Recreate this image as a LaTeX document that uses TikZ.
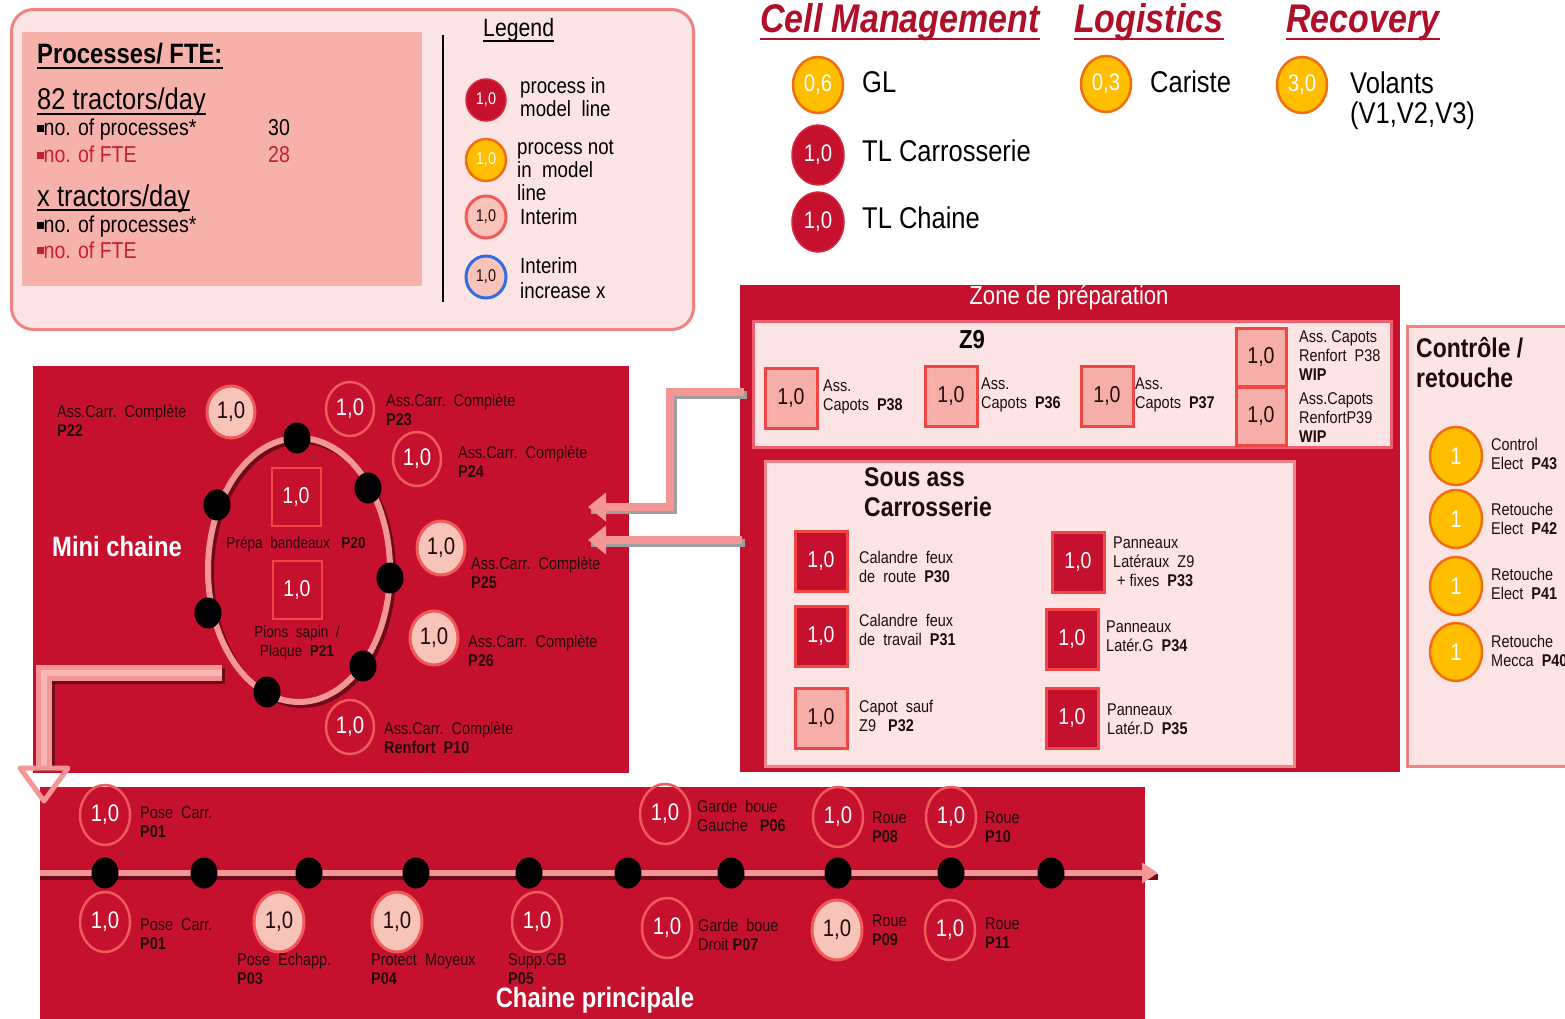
\documentclass[tikz,border=0pt]{standalone}
\usepackage{fontspec}
\setmainfont{Liberation Sans}[FakeStretch=0.85]
\usetikzlibrary{shapes.geometric,arrows.meta,calc}
\definecolor{dred}{RGB}{197,16,46}
\definecolor{mred}{RGB}{214,40,62}
\definecolor{titlered}{RGB}{175,15,40}
\definecolor{lpink}{RGB}{253,228,228}
\definecolor{bpink}{RGB}{240,130,130}
\definecolor{pbox}{RGB}{246,178,170}
\definecolor{lineP}{RGB}{245,150,150}
\definecolor{lineQ}{RGB}{248,182,182}
\definecolor{orf}{RGB}{255,190,0}
\definecolor{ord}{RGB}{240,110,20}
\definecolor{intf}{RGB}{248,196,186}
\definecolor{intd}{RGB}{240,90,90}
\definecolor{boxd}{RGB}{240,70,70}
\definecolor{boxf}{RGB}{245,175,168}
\definecolor{fte}{RGB}{200,30,50}
\definecolor{shad}{RGB}{110,10,25}
\definecolor{txtd}{RGB}{35,10,10}
\definecolor{z9d}{RGB}{240,96,112}
\definecolor{bluec}{RGB}{50,110,225}
\newcommand{\myfs}[1]{\fontsize{#1}{#1}\selectfont}
\newcommand{\myfsl}[2]{\fontsize{#1}{#2}\selectfont}
\newcommand{\blt}{\rule[0.18em]{0.28em}{0.28em}}
\begin{document}
\begin{tikzpicture}[x=1pt,y=-1pt,
 lbl/.style={inner sep=0pt, align=left, text=txtd, font=\myfsl{17}{19}, anchor=west},
 cb/.style={ellipse, inner sep=0pt, minimum width=50pt, minimum height=58pt, font=\myfs{24}},
 modelc/.style={cb, fill=dred, draw=mred, line width=1.5pt, text=white},
 outc/.style={cb, draw=intd, line width=2.5pt, text=white},
 intc/.style={cb, fill=intf, draw=intd, line width=3pt, text=txtd},
 orc/.style={cb, fill=orf, draw=ord, line width=2.5pt, text=white},
 lc/.style={minimum width=40pt, minimum height=42pt, font=\myfs{17}},
 sq/.style={rectangle, inner sep=0pt, minimum width=52pt, minimum height=60pt, line width=3pt, draw=boxd, font=\myfs{23}},
 zbox/.style={sq, fill=boxf, text=txtd},
 rbox/.style={sq, fill=dred, text=white},
 mbox/.style={sq, line width=2pt, minimum width=49pt, minimum height=58pt, text=white},
 dot/.style={ellipse, fill=black, inner sep=0pt, minimum width=27pt, minimum height=31pt},
 cont/.style={rectangle, inner sep=0pt, anchor=north west},
 hd/.style={inner sep=0pt, anchor=base west, text=titlered, font=\myfs{40}\bfseries\itshape},
 ul/.style={line width=2.5pt, titlered},
 txt/.style={inner sep=0pt, anchor=base west},
 wt/.style={inner sep=0pt, text=white, font=\myfs{28}\bfseries},
]
\useasboundingbox (0,0) rectangle (1565,1019);
\clip (0,0) rectangle (1565,1019);
\fill[white] (0,0) rectangle (1565,1019);

% ---------- containers
\node[cont, draw=bpink, line width=3pt, fill=lpink, rounded corners=22pt, minimum width=682pt, minimum height=320pt] (legbox) at (10,8) {};
\node[cont, fill=pbox, minimum width=400pt, minimum height=254pt] (procbox) at (22,32) {};
\node[cont, fill=dred, minimum width=596pt, minimum height=407pt] (mini) at (33,366) {};
\node[cont, fill=dred, minimum width=660pt, minimum height=487pt] (zone) at (740,285) {};
\node[cont, fill=lpink, draw=z9d, line width=3pt, minimum width=638pt, minimum height=126pt] (z9) at (752,320) {};
\node[cont, fill=lpink, draw=bpink, line width=3pt, minimum width=529pt, minimum height=305pt] (sous) at (764,460) {};
\node[cont, fill=lpink, draw=bpink, line width=3pt, minimum width=175pt, minimum height=440pt] (ctrl) at (1406,325) {};
\node[cont, fill=dred, minimum width=1105pt, minimum height=240pt] (chain) at (40,787) {};

% ---------- legend area
\node[txt, font=\myfs{28}\bfseries] (ptitle) at (37,64) {Processes/ FTE:};
\draw[line width=1.8pt] ([yshift=-4pt]ptitle.base west) -- ([yshift=-4pt]ptitle.base east);
\node[txt, font=\myfs{30}] (t82) at (37,110) {82 tractors/day};
\draw[line width=1.5pt] ([yshift=-4pt]t82.base west) -- ([yshift=-4pt]t82.base east);
\node[txt, font=\myfs{23}] (np1) at (37,136) {\blt no. of processes*};
\node[txt, font=\myfs{23}] (n30) at (268,136) {30};
\node[txt, font=\myfs{23}, text=fte] (nf1) at (37,163) {\blt no. of FTE};
\node[txt, font=\myfs{23}, text=fte] (n28) at (268,163) {28};
\node[txt, font=\myfs{30}] (tx) at (37,206) {x tractors/day};
\draw[line width=1.5pt] ([yshift=-4pt]tx.base west) -- ([yshift=-4pt]tx.base east);
\node[txt, font=\myfs{23}] (np2) at (37,233) {\blt no. of processes*};
\node[txt, font=\myfs{23}, text=fte] (nf2) at (37,258) {\blt no. of FTE};

\draw[line width=2pt] (443,35) -- (443,302);
\node[txt, font=\myfs{25}] (leg) at (483,37) {Legend};
\draw[line width=1.2pt] ([yshift=-4pt]leg.base west) -- ([yshift=-4pt]leg.base east);

\node[modelc, lc] (lg1) at (486,100) {1,0};
\node[orc, lc] (lg2) at (486,160) {1,0};
\node[intc, lc] (lg3) at (486,217) {1,0};
\node[intc, lc, draw=bluec] (lg4) at (486,277) {1,0};
\node[lbl, text=black, font=\myfsl{22}{23}] (lt1) at (520,97) {process in\\model\ \ line};
\node[lbl, text=black, font=\myfsl{22}{23}] (lt2) at (517,170) {process not\\in\ \ model\\line};
\node[lbl, text=black, font=\myfsl{22}{24}] (lt3) at (520,217) {Interim};
\node[lbl, text=black, font=\myfsl{22}{25}] (lt4) at (520,278) {Interim\\increase x};

% ---------- top right
\node[hd] (h1) at (760,33) {Cell Management};
\draw[ul] ([yshift=-6pt]h1.base west) -- ([yshift=-6pt]h1.base east);
\node[hd] (h2) at (1074,33) {Logistics};
\draw[ul] ([yshift=-6pt]h2.base west) -- ([yshift=-6pt]h2.base east);
\node[hd] (h3) at (1286,33) {Recovery};
\draw[ul] ([yshift=-6pt]h3.base west) -- ([yshift=-6pt]h3.base east);

\node[orc, minimum height=56pt] (gl) at (818,85) {0,6};
\node[modelc, minimum width=52pt, minimum height=60pt] (tlc) at (818,155) {1,0};
\node[modelc, minimum width=52pt, minimum height=60pt] (tlch) at (818,222) {1,0};
\node[orc, minimum height=56pt] (car) at (1106,84) {0,3};
\node[orc, minimum height=56pt] (vol) at (1302,85) {3,0};
\node[lbl, text=black, font=\myfsl{30}{30}] (tgl) at (862,82) {GL};
\node[lbl, text=black, font=\myfsl{30}{30}] (ttlc) at (862,151) {TL Carrosserie};
\node[lbl, text=black, font=\myfsl{30}{30}] (ttlch) at (862,218) {TL Chaine};
\node[lbl, text=black, font=\myfsl{30}{30}] (tcar) at (1150,82) {Cariste};
\node[lbl, text=black, font=\myfsl{30}{30}] (tvol) at (1350,101) {Volants\\(V1,V2,V3)};

% ---------- zone de preparation
\node[inner sep=0pt, text=white, font=\myfs{26}] (ztitle) at (1069,298) {Zone de préparation};
\node[inner sep=0pt, font=\myfs{26}\bfseries] (z9t) at (972,340) {Z9};
\node[zbox] (zb1) at (791,398) {1,0};
\node[zbox] (zb2) at (951,396) {1,0};
\node[zbox] (zb3) at (1107,396) {1,0};
\node[zbox, minimum width=50pt, minimum height=58pt] (zb4) at (1261,357) {1,0};
\node[zbox, minimum width=50pt, minimum height=58pt] (zb5) at (1261,416) {1,0};
\node[lbl] (zl1) at (823,397) {Ass.\\Capots\ \ \textbf{P38}};
\node[lbl] (zl2) at (981,395) {Ass.\\Capots\ \ \textbf{P36}};
\node[lbl] (zl3) at (1135,395) {Ass.\\Capots\ \ \textbf{P37}};
\node[lbl] (zl4) at (1299,356) {Ass.\ Capots\\Renfort\ \ P38\\\textbf{WIP}};
\node[lbl] (zl5) at (1299,418) {Ass.Capots\\RenfortP39\\\textbf{WIP}};

\node[inner sep=0pt, anchor=north west, align=left, font=\myfsl{27}{30}\bfseries, text=txtd] (stitle) at (864,467) {Sous ass\\Carrosserie};
\node[rbox] (sb1) at (821,561) {1,0};
\node[rbox] (sb2) at (821,636) {1,0};
\node[zbox] (sb3) at (821,718) {1,0};
\node[rbox] (sb4) at (1078,562) {1,0};
\node[rbox] (sb5) at (1072,639) {1,0};
\node[rbox] (sb6) at (1072,718) {1,0};
\node[lbl] (sl1) at (859,567) {Calandre\ \ feux\\de\ \ route\ \ \textbf{P30}};
\node[lbl] (sl2) at (859,630) {Calandre\ \ feux\\de\ \ travail\ \ \textbf{P31}};
\node[lbl] (sl3) at (859,716) {Capot\ \ sauf\\Z9\ \ \ \textbf{P32}};
\node[lbl] (sl4) at (1113,562) {Panneaux\\Latéraux\ \ Z9\\\ + fixes\ \ \textbf{P33}};
\node[lbl] (sl5) at (1106,636) {Panneaux\\Latér.G\ \ \textbf{P34}};
\node[lbl] (sl6) at (1107,719) {Panneaux\\Latér.D\ \ \textbf{P35}};

% ---------- controle / retouche
\node[inner sep=0pt, anchor=north west, align=left, font=\myfsl{27}{30}\bfseries, text=txtd] (ctitle) at (1416,337) {Contrôle /\\retouche};
\node[orc, minimum width=52pt] (cc1) at (1456,456) {1};
\node[orc, minimum width=52pt] (cc2) at (1456,519) {1};
\node[orc, minimum width=52pt] (cc3) at (1456,586) {1};
\node[orc, minimum width=52pt] (cc4) at (1456,652) {1};
\node[lbl] (cl1) at (1491,454) {Control\\Elect\ \ \textbf{P43}};
\node[lbl] (cl2) at (1491,519) {Retouche\\Elect\ \ \textbf{P42}};
\node[lbl] (cl3) at (1491,584) {Retouche\\Elect\ \ \textbf{P41}};
\node[lbl] (cl4) at (1491,651) {Retouche\\Mecca\ \ \textbf{P40}};

% ---------- connectors zone -> mini chaine
\coordinate (a1s) at (744,392);
\coordinate (a1b) at (670,392);
\coordinate (a1c) at (670,507);
\coordinate (a1e) at (588,507);
\coordinate (a2s) at (742,540);
\coordinate (a2e) at (588,540);
\begin{scope}[transform canvas={xshift=3pt,yshift=-3pt}]
\draw[line width=8pt, gray!75] (a1s) -- (a1b) -- (a1c) -- (a1e);
\draw[line width=8pt, gray!75] (a2s) -- (a2e);
\end{scope}
\draw[line width=8pt, lineP, -{Triangle[length=18pt,width=28pt]}] (a1s) -- (a1b) -- (a1c) -- (a1e);
\draw[line width=8pt, lineP, -{Triangle[length=18pt,width=28pt]}] (a2s) -- (a2e);

% ---------- mini chaine
\node[wt] (mct) at (117,546) {Mini chaine};
\node[ellipse, draw=shad, line width=6pt, inner sep=0pt, minimum width=182pt, minimum height=264pt] (loopsh) at (302,573) {};
\node[ellipse, draw=lineP, line width=6pt, inner sep=0pt, minimum width=182pt, minimum height=264pt] (loop) at (299,570) {};
\node[dot] (md1) at (297,438) {};
\node[dot] (md2) at (368,488) {};
\node[dot] (md3) at (390,578) {};
\node[dot] (md4) at (363,666) {};
\node[dot] (md5) at (267,692) {};
\node[dot] (md6) at (208,613) {};
\node[dot] (md7) at (217,505) {};
\node[mbox] (mb1) at (296,497) {1,0};
\node[mbox] (mb2) at (297,590) {1,0};
\node[inner sep=0pt, text=txtd, font=\myfs{16}] (ml1) at (296,544) {Prépa\ \ bandeaux\ \ \ \textbf{P20}};
\node[inner sep=0pt, text=txtd, align=center, font=\myfsl{16}{19}] (ml2) at (297,643) {Pions\ \ sapin\ \ /\\Plaque\ \ \textbf{P21}};

\node[intc, minimum width=48pt, minimum height=52pt] (m22) at (231,412) {1,0};
\node[outc, minimum width=48pt, minimum height=54pt] (m23) at (350,409) {1,0};
\node[outc, minimum width=48pt, minimum height=54pt] (m24) at (417,459) {1,0};
\node[intc, minimum width=48pt, minimum height=54pt] (m25) at (441,548) {1,0};
\node[intc, minimum width=48pt, minimum height=54pt] (m26) at (434,638) {1,0};
\node[outc, minimum width=48pt, minimum height=54pt] (m10) at (350,727) {1,0};
\node[lbl] (ml22) at (57,421) {Ass.Carr.\ \ Complète\\\textbf{P22}};
\node[lbl] (ml23) at (386,410) {Ass.Carr.\ \ Complète\\\textbf{P23}};
\node[lbl] (ml24) at (458,462) {Ass.Carr.\ \ Complète\\\textbf{P24}};
\node[lbl] (ml25) at (471,573) {Ass.Carr.\ \ Complète\\\textbf{P25}};
\node[lbl] (ml26) at (468,651) {Ass.Carr.\ \ Complète\\\textbf{P26}};
\node[lbl] (ml10) at (384,738) {Ass.Carr.\ \ Complète\\\textbf{Renfort\ \ P10}};

% ---------- mini chaine -> chaine principale
\coordinate (l1) at (222,673);
\coordinate (l2) at (44,673);
\coordinate (l3) at (44,768);
\begin{scope}[transform canvas={xshift=3pt,yshift=-3pt}]
\draw[line width=16pt, shad] (l1) -- (l2) -- (l3);
\end{scope}
\draw[line width=16pt, lineP] (l1) -- (l2) -- (l3);
\draw[line width=6pt, lineQ] (l1) -- (l2) -- (l3);
\draw[lineP, line width=5pt, line join=round] (20,768) -- (68,768) -- (44,801) -- cycle;

% ---------- chaine principale
\coordinate (chs) at (40,873);
\coordinate (che) at (1158,873);
\draw[line width=6pt, shad, transform canvas={yshift=-4pt}] (chs) -- (che);
\draw[line width=6pt, lineP, -{Triangle[length=16pt,width=20pt]}] (chs) -- (che);
\foreach \i/\x in {1/105,2/204,3/309,4/416,5/529,6/628,7/731,8/838,9/951,10/1051}
  \node[dot] (cd\i) at (\x,873) {};

\node[outc, minimum height=60pt] (c01t) at (105,815) {1,0};
\node[outc, minimum height=60pt] (c06) at (665,814) {1,0};
\node[outc, minimum height=60pt] (c08) at (838,817) {1,0};
\node[outc, minimum height=60pt] (c10) at (951,817) {1,0};
\node[outc, minimum height=60pt] (c01b) at (105,922) {1,0};
\node[intc, minimum height=60pt] (c03) at (279,922) {1,0};
\node[intc, minimum height=60pt] (c04) at (397,922) {1,0};
\node[outc, minimum height=60pt] (c05) at (537,922) {1,0};
\node[outc, minimum height=60pt] (c07) at (667,928) {1,0};
\node[intc, minimum height=60pt] (c09) at (837,930) {1,0};
\node[outc, minimum height=60pt] (c11) at (950,930) {1,0};

\node[lbl] (cl01t) at (140,822) {Pose\ \ Carr.\\\textbf{P01}};
\node[lbl] (cl06) at (697,816) {Garde\ \ boue\\Gauche\ \ \ \textbf{P06}};
\node[lbl] (cl08) at (872,827) {Roue\\\textbf{P08}};
\node[lbl] (cl10) at (985,827) {Roue\\\textbf{P10}};
\node[lbl] (cl01b) at (140,934) {Pose\ \ Carr.\\\textbf{P01}};
\node[lbl] (cl03) at (237,969) {Pose\ \ Echapp.\\\textbf{P03}};
\node[lbl] (cl04) at (371,969) {Protect\ \ Moyeux\\\textbf{P04}};
\node[lbl] (cl05) at (508,969) {Supp.GB\\\textbf{P05}};
\node[lbl] (cl07) at (698,935) {Garde\ \ boue\\Droit \textbf{P07}};
\node[lbl] (cl09) at (872,930) {Roue\\\textbf{P09}};
\node[lbl] (cl11) at (985,933) {Roue\\\textbf{P11}};
\node[wt] (cpt) at (595,1000) {Chaine principale};
\end{tikzpicture}
\end{document}
